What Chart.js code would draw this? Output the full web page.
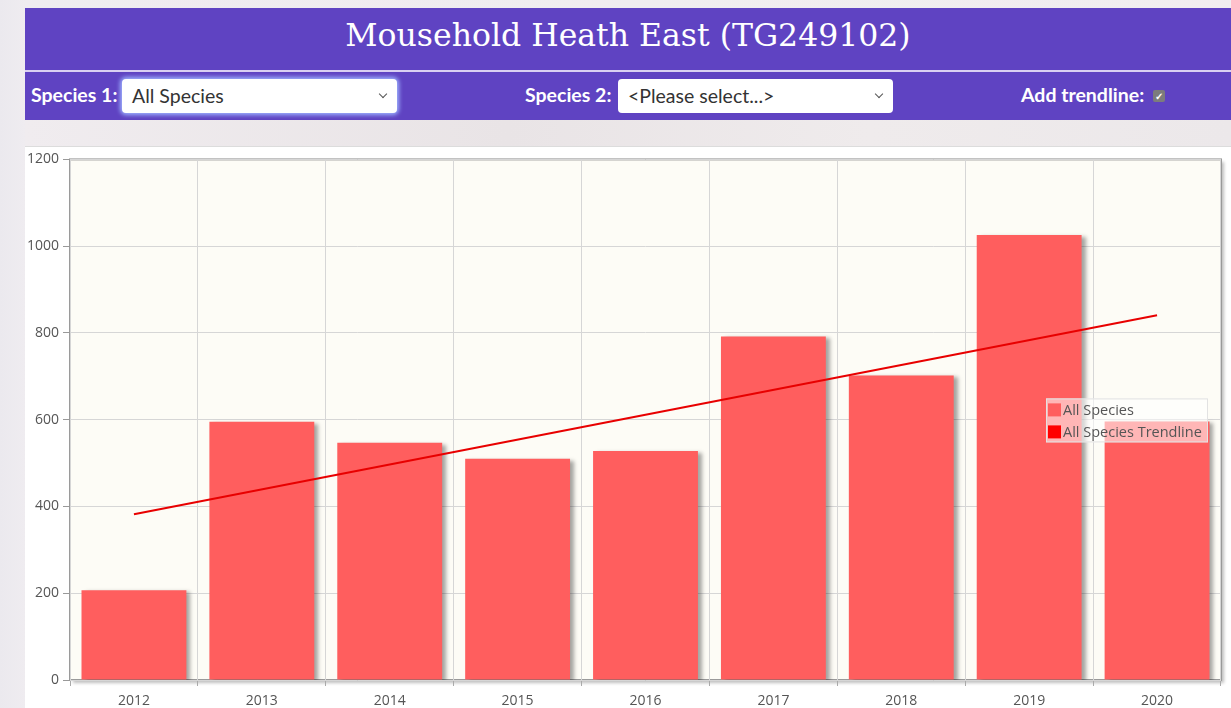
<!DOCTYPE html>
<html lang="en">
<head>
    <meta charset="UTF-8">
    <title>Mousehold Heath East (TG249102)</title>
    <script src="https://cdn.jsdelivr.net/npm/chart.js@4.4.0/dist/chart.umd.min.js"></script>
    <style>
        html, body { margin: 0; padding: 0; }
        body { width: 1231px; height: 708px; overflow: hidden; position: relative;
               background: linear-gradient(90deg, #ebe9ee 0px, #efecf0 25px, #f1eef0 100%); font-family: Lato, "Open Sans", sans-serif; }
        #header { position: absolute; left: 25px; top: 8px; width: 1206px; height: 62px; background: #5f43c2;
                  color: #fff; text-align: center; font-family: "DejaVu Serif", serif; font-size: 31.5px; line-height: 54px; }
        #sep { position: absolute; left: 25px; top: 70px; width: 1206px; height: 2px; background: #d9d0f2; }
        #controls { position: absolute; left: 25px; top: 72px; width: 1206px; height: 48px; background: #5f43c2; color: #fff;
                    font-weight: bold; font-size: 19.5px; }
        .lbl { position: absolute; top: 11px; }
        .sel { position: absolute; top: 7px; height: 34px; width: 275px; background: #fff; border-radius: 4px;
               box-sizing: border-box; color: #333; font-weight: normal; font-size: 19.5px; line-height: 34px; padding-left: 10px; }
        .sel.glow { box-shadow: 0 0 4px 2px #9fb4ff; }
        .sel span.chev { position: absolute; right: 11px; top: 12px; width: 5px; height: 5px;
                         border-right: 1.5px solid #555; border-bottom: 1.5px solid #555; transform: rotate(45deg); }
        #chk { position: absolute; left: 1128px; top: 18px; width: 12px; height: 12px; background: #7c7c7c; border-radius: 2px;
               color: #fff; font-size: 10px; line-height: 12px; text-align: center; }
        #strip { position: absolute; left: 25px; top: 120px; width: 1206px; height: 26px;
                 background: linear-gradient(90deg, #f0ecef, #e9e4e6 40%, #efebec 70%, #ece8ea); }
        #panel { position: absolute; left: 25px; top: 146px; width: 1206px; height: 562px; background: #fff;
                 border-top: 1px solid #dcdcdc; box-sizing: border-box; }
    </style>
</head>
<body>
    <div id="header">Mousehold Heath East (TG249102)</div>
    <div id="sep"></div>
    <div id="controls">
        <span class="lbl" style="left:6px">Species 1:</span>
        <div class="sel glow" style="left:97px">All Species<span class="chev"></span></div>
        <span class="lbl" style="left:500px">Species 2:</span>
        <div class="sel" style="left:593px">&lt;Please select...&gt;<span class="chev"></span></div>
        <span class="lbl" style="left:996px">Add trendline:</span>
        <div id="chk">&#10003;</div>
    </div>
    <div id="strip"></div>
    <div id="panel"><canvas id="chart" width="1206" height="561"></canvas></div>
    <script>
        // Values
        const YEARS = ['2012', '2013', '2014', '2015', '2016', '2017', '2018', '2019', '2020'];
        const RECORDS = [207, 595, 547, 510, 528, 792, 702, 1026, 596];
        // trendline: only the two end points, joined straight
        const TREND = [382, null, null, null, null, null, null, null, 841];

        const BAR_COLOR = '#ff5e5e';
        const TREND_COLOR = '#e80000';

        // cream plot area with frame
        const plotBg = {
            id: 'plotBg',
            beforeDraw(chart) {
                const { ctx, chartArea: a } = chart;
                ctx.save();
                ctx.shadowColor = 'rgba(0,0,0,0.25)';
                ctx.shadowOffsetX = 3; ctx.shadowOffsetY = 3; ctx.shadowBlur = 3;
                ctx.fillStyle = '#fdfcf6';
                ctx.fillRect(a.left, a.top, a.right - a.left, a.bottom - a.top);
                ctx.restore();
                ctx.save();
                ctx.strokeStyle = '#9a9a9a';
                ctx.lineWidth = 2;
                ctx.strokeRect(a.left, a.top, a.right - a.left, a.bottom - a.top);
                ctx.restore();
            }
        };

        // drop shadow under the bars only
        const barShadow = {
            id: 'barShadow',
            beforeDatasetDraw(chart, args) {
                if (args.index !== 0) return;
                const ctx = chart.ctx;
                ctx.save();
                ctx.shadowColor = 'rgba(0,0,0,0.35)';
                ctx.shadowOffsetX = 4; ctx.shadowOffsetY = 2; ctx.shadowBlur = 4;
            },
            afterDatasetDraw(chart, args) {
                if (args.index !== 0) return;
                chart.ctx.restore();
            }
        };

        // legend box inside the plot, right side
        const insideLegend = {
            id: 'insideLegend',
            afterDraw(chart) {
                const { ctx, chartArea: a } = chart;
                const w = 162, h = 44;
                const x = a.right - 13 - w, y = a.top + 239;
                ctx.save();
                ctx.fillStyle = 'rgba(255,255,255,0.55)';
                ctx.fillRect(x, y, w, h);
                ctx.strokeStyle = '#e2e2e2';
                ctx.lineWidth = 1;
                ctx.strokeRect(x + 0.5, y + 0.5, w - 1, h - 1);
                ctx.font = '14.5px "Open Sans", sans-serif';
                ctx.textBaseline = 'middle';
                chart.data.datasets.forEach((ds, i) => {
                    const cy = y + 11 + i * 22;
                    ctx.fillStyle = ds.legendColor;
                    ctx.fillRect(x + 2, cy - 6, 13, 13);
                    ctx.fillStyle = '#555';
                    ctx.fillText(ds.label, x + 17, cy + 1);
                });
                ctx.restore();
            }
        };

        new Chart(document.getElementById('chart'), {
            type: 'bar',
            data: {
                labels: YEARS,
                datasets: [
                    {
                        label: 'All Species',
                        data: RECORDS,
                        backgroundColor: BAR_COLOR,
                        legendColor: BAR_COLOR,
                        barPercentage: 0.82,
                        categoryPercentage: 1,
                        order: 2
                    },
                    {
                        type: 'line',
                        label: 'All Species Trendline',
                        data: TREND,
                        borderColor: TREND_COLOR,
                        legendColor: '#ff0000',
                        borderWidth: 2,
                        pointRadius: 0,
                        spanGaps: true,
                        fill: false,
                        order: 1
                    }
                ]
            },
            options: {
                responsive: false,
                animation: false,
                layout: { padding: { top: 12, right: 10, left: 0, bottom: 0 } },
                scales: {
                    x: {
                        grid: { color: '#d6d6d6', offset: true, tickLength: 6, tickColor: '#aaa' },
                        border: { display: false },
                        ticks: { color: '#555', font: { family: '"Open Sans", sans-serif', size: 14 }, padding: 7 },
                        afterFit(scale) { scale.height = 28; }
                    },
                    y: {
                        min: 0, max: 1200,
                        grid: { color: '#d6d6d6', tickLength: 7, tickColor: '#999' },
                        border: { display: false },
                        ticks: { stepSize: 200, color: '#555', font: { family: '"Open Sans", sans-serif', size: 14 }, padding: 4,
                                 callback: v => String(v) },
                        afterFit(scale) { scale.width = 45; }
                    }
                },
                plugins: {
                    legend: { display: false },
                    tooltip: { enabled: false }
                }
            },
            plugins: [plotBg, barShadow, insideLegend]
        });
    </script>
</body>
</html>
